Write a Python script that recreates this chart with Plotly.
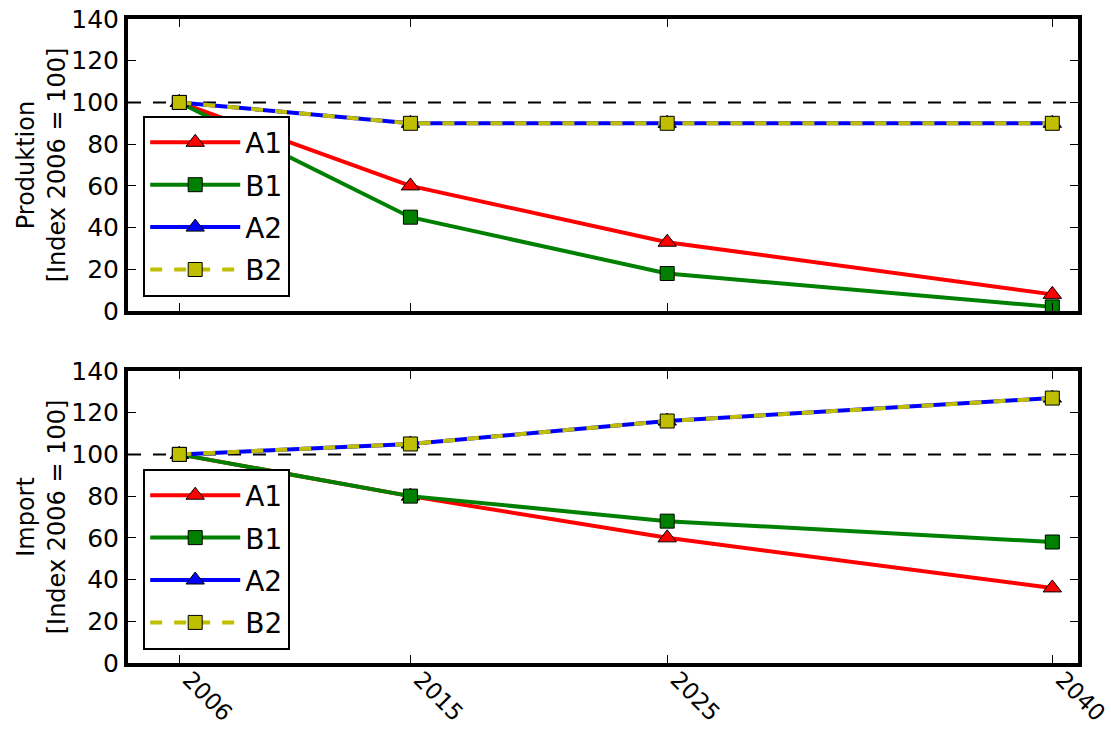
import plotly.graph_objects as go
from plotly.subplots import make_subplots

years = [2006, 2015, 2025, 2040]
series = ["A1", "B1", "A2", "B2"]

prod_a1 = [100, 60, 33, 8]
prod_b1 = [100, 45, 18, 2]
prod_a2 = [100, 90, 90, 90]
prod_b2 = [100, 90, 90, 90]

imp_a1 = [100, 80, 60, 36]
imp_b1 = [100, 80, 68, 58]
imp_a2 = [100, 105, 116, 127]
imp_b2 = [100, 105, 116, 127]

y_titles = ["Produktion<br>[Index 2006 = 100]", "Import<br>[Index 2006 = 100]"]

FONT = "DejaVu Sans"
styles = {
    "A1": dict(color="#ff0000", symbol="triangle-up", size=16, dash="solid"),
    "B1": dict(color="#008000", symbol="square", size=14, dash="solid"),
    "A2": dict(color="#0000ff", symbol="triangle-up", size=16, dash="solid"),
    "B2": dict(color="#bfbf00", symbol="square", size=14, dash="12px,12px"),
}

fig = make_subplots(rows=2, cols=1, vertical_spacing=0.093)

panels = [
    (1, "legend", [prod_a1, prod_b1, prod_a2, prod_b2]),
    (2, "legend2", [imp_a1, imp_b1, imp_a2, imp_b2]),
]
for row, leg, vals in panels:
    for name, ys in zip(series, vals):
        st = styles[name]
        fig.add_trace(go.Scatter(
            x=years, y=ys, name=name, mode="lines+markers",
            legend=leg, legendgroup=f"{leg}-{name}",
            line=dict(color=st["color"], width=4, dash=st["dash"]),
            marker=dict(symbol=st["symbol"], size=st["size"], color=st["color"],
                        line=dict(color="black", width=1))),
            row=row, col=1)
    fig.add_hline(y=100, line=dict(color="black", width=2, dash="13px,12px"),
                  layer="below", row=row, col=1)

axis_common = dict(
    showline=True, linewidth=4, linecolor="black", mirror="ticks",
    ticks="inside", ticklen=8, tickwidth=1, tickcolor="black",
    showgrid=False, zeroline=False, automargin=False,
    ticklabeloverflow="allow",
)
for row in (1, 2):
    fig.update_xaxes(range=[2004, 2041], tickvals=years, tickangle=45,
                     ticklabelstandoff=-10, ticklabelshift=10,
                     tickfont=dict(family=FONT, size=23, color="black"),
                     showticklabels=(row == 2), row=row, col=1, **axis_common)
    fig.update_yaxes(range=[0, 140], dtick=20, ticklabelstandoff=0,
                     tickfont=dict(family=FONT, size=25, color="black"),
                     title=dict(text=y_titles[row - 1], standoff=0,
                                font=dict(family=FONT, size=24, color="black")),
                     row=row, col=1, **axis_common)

legend_style = dict(
    bgcolor="white", bordercolor="black", borderwidth=2,
    font=dict(family=FONT, size=28, color="black"),
    xref="paper", yref="paper", xanchor="left", yanchor="top",
    traceorder="grouped", tracegroupgap=3, itemwidth=90,
)
fig.update_layout(
    width=1111, height=729,
    margin=dict(l=128, r=33, t=19, b=66),
    paper_bgcolor="white", plot_bgcolor="white",
    font=dict(family=FONT, color="black"),
    legend=dict(x=0.016, y=0.85, **legend_style),
    legend2=dict(x=0.016, y=0.302, **legend_style),
)

# drop the page's default 8px body margin so the figure fills the window
fig.write_html("out.html", config={"displayModeBar": False},
               post_script="document.body.style.margin='0';")
